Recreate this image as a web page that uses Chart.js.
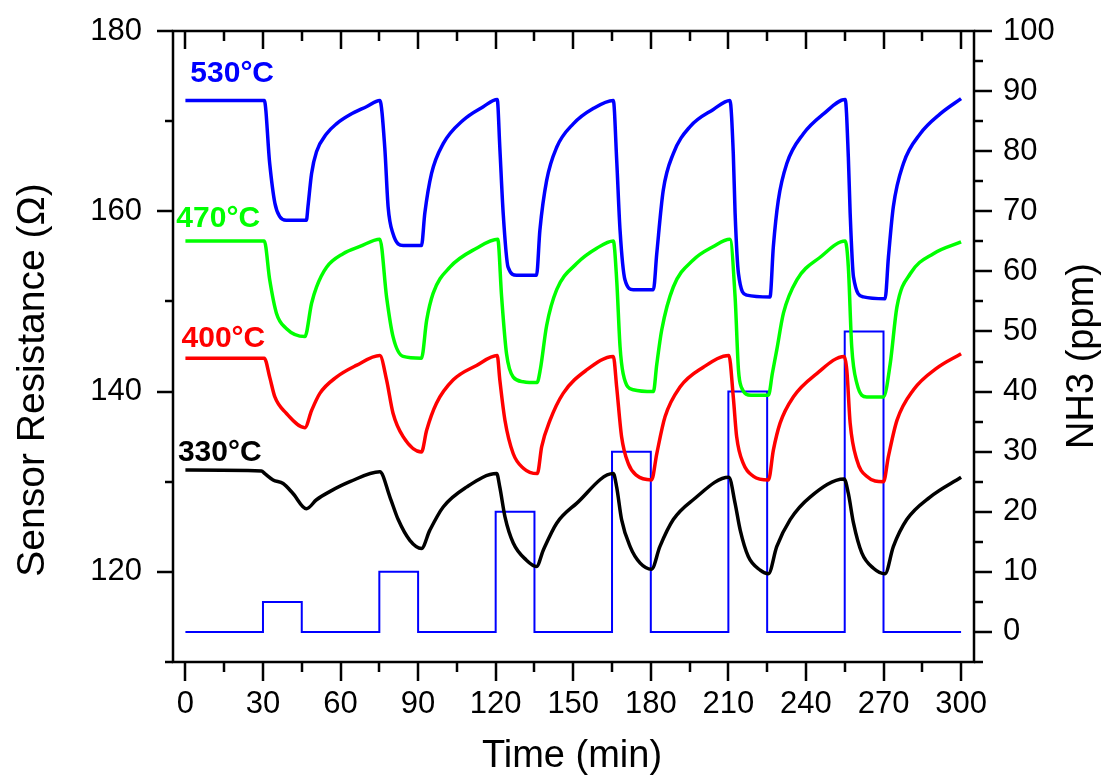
<!DOCTYPE html>
<html>
<head>
<meta charset="utf-8">
<script src="https://cdn.jsdelivr.net/npm/chart.js@4.4.0/dist/chart.umd.min.js"></script>
<style>
  html, body { margin: 0; padding: 0; background: #fff; }
  #wrap { width: 1106px; height: 778px; }
</style>
</head>
<body>
<div id="wrap"><canvas id="sensorChart" width="1106" height="778"></canvas></div>
<script>
// sensor resistance, one pair of arrays per temperature
const time530 = [0, 30.5, 32.6, 34.6, 36.5, 39, 46.8, 47.4, 48.8, 50.7, 54.6, 58.4, 63.6, 70, 75.2,
  77.1, 78.4, 80.3, 84.2, 91.3, 92.6, 95.2, 99.7, 107.4, 115.2, 120.6,
  121.6, 122.9, 124.8, 128.1, 135.8, 137.1, 139.7, 143.6, 150, 157.7, 165.5,
  166.8, 168.1, 170, 173.2, 181, 182.3, 184.8, 188.7, 195.2, 204.2, 210.6,
  211.9, 212.6, 213.9, 217.1, 226.1, 227.4, 229.3, 232.6, 239, 246.8, 255.2,
  256.4, 257.1, 258.4, 262.2, 270.6, 271.9, 273.8, 277.7, 284.2, 291.9, 300];
const res530 = [172.3, 172.3, 165.3, 160.9, 159.4, 159.0, 159.0, 160.5, 164.2, 166.6, 168.6, 169.7, 170.7, 171.6, 172.3,
  167.1, 160.5, 157.5, 156.2, 156.2, 159.8, 164.2, 167.5, 170.1, 171.6, 172.4,
  167.1, 159.8, 153.8, 152.9, 152.9, 157.9, 163.4, 167.1, 169.7, 171.4, 172.3,
  165.7, 157.9, 152.4, 151.3, 151.3, 155.3, 162.3, 166.4, 169.4, 171.3, 172.3,
  166.4, 159.8, 153.1, 150.7, 150.5, 156.1, 161.2, 165.3, 168.6, 170.8, 172.4,
  166.0, 159.8, 152.7, 150.5, 150.3, 154.9, 160.5, 165.3, 168.6, 170.8, 172.5];

const time470 = [0, 30.5, 32.6, 35.2, 39, 46.2, 48.8, 50.7, 54.6, 61, 67.5, 75.2,
  77.8, 80.3, 84.2, 91.3, 93.3, 95.8, 102.3, 112.6, 120.8,
  122.3, 124.2, 126.8, 130.7, 136.0, 137.3, 139.7, 143.6, 151.3, 159.1, 165.5,
  166.8, 168.1, 169.3, 173.2, 181, 182.3, 184.2, 188.7, 196.4, 204.2, 210.6,
  212.6, 213.9, 215, 218.8, 225.5, 227.0, 228.7, 231.3, 236.5, 245.5, 255.2,
  256.4, 257.7, 259.7, 263.5, 270, 272.6, 275.2, 280.4, 289.3, 300];
const res470 = [156.7, 156.7, 152.4, 148.7, 147.0, 146.1, 149.8, 151.6, 153.8, 155.3, 156.1, 156.9,
  150.5, 146.1, 143.9, 143.7, 147.9, 150.9, 153.8, 155.9, 156.9,
  150.5, 144.2, 141.6, 141.1, 141.0, 142.5, 147.3, 151.3, 154.2, 155.9, 156.7,
  152.4, 145.0, 142.0, 140.2, 140.0, 143.0, 146.8, 151.6, 154.6, 156.1, 156.9,
  150.5, 142.4, 140.5, 139.6, 139.6, 142.0, 144.6, 148.7, 152.4, 154.9, 156.7,
  153.8, 145.0, 140.9, 139.4, 139.4, 143.1, 149.4, 153.1, 155.3, 156.6];

const time400 = [0, 30.5, 32.6, 34.6, 39, 46.2, 48.8, 52, 58.4, 66.1, 75.2,
  77.8, 80.3, 84.2, 91.3, 93.3, 97.1, 103.6, 112.6, 120.6,
  121.6, 123.6, 126.8, 130.7, 136.1, 137.8, 141, 146.1, 155.2, 165.5,
  166.8, 168.7, 171.3, 174.5, 180.3, 182.3, 185.5, 191.3, 200.3, 210.2,
  211.9, 213.2, 215.8, 219.7, 225.5, 227.4, 230, 235.1, 244.2, 254.8,
  255.8, 257.1, 259.7, 263.5, 270, 271.9, 275.2, 281.6, 290.6, 300];
const res400 = [143.7, 143.7, 141.6, 139.4, 137.6, 136.0, 137.9, 139.8, 141.6, 142.9, 144.0,
  141.3, 137.6, 135.0, 133.3, 135.7, 138.7, 141.3, 142.9, 144.0,
  141.3, 136.8, 133.1, 131.5, 130.9, 133.9, 136.8, 139.8, 142.4, 143.9,
  140.5, 135.0, 132.0, 130.7, 130.2, 133.1, 137.2, 140.5, 142.7, 144.0,
  139.4, 135.0, 132.0, 130.6, 130.2, 133.5, 136.5, 139.4, 142.0, 143.9,
  142.4, 136.5, 132.4, 130.6, 130.0, 132.8, 136.8, 140.2, 142.6, 144.2];

const time330 = [0, 29.4, 30.7, 33.9, 37.8, 41.6, 46.8, 50.7, 55.8, 63.6, 75.2,
  79.1, 82.3, 86.8, 91.3, 94.5, 99.7, 108.7, 120.4,
  121.6, 123.6, 126.8, 131.9, 135.8, 138.4, 143.6, 151.3, 165.5,
  166.8, 168.7, 172, 175.8, 180.3, 183.5, 188.7, 196.4, 210.2,
  212.6, 214.6, 217.7, 222.3, 225.5, 228.7, 233.9, 241.6, 254.8,
  256.4, 258.4, 261.6, 266.1, 270.6, 273.8, 279, 288, 300];
const res330 = [131.3, 131.2, 130.9, 130.2, 129.8, 128.7, 127.0, 128.0, 128.9, 130.0, 131.1,
  128.3, 125.8, 123.5, 122.6, 124.6, 127.2, 129.4, 130.9,
  129.4, 126.1, 123.2, 121.3, 120.6, 122.4, 125.4, 127.6, 130.9,
  129.4, 125.8, 122.8, 121.0, 120.3, 122.8, 125.8, 128.0, 130.5,
  127.6, 124.6, 121.7, 120.2, 119.8, 122.8, 125.8, 128.3, 130.3,
  128.7, 125.4, 122.1, 120.4, 119.8, 122.8, 125.8, 128.3, 130.5];

// NH3 pulses (each value held until the next time point)
const nh3Time = [0, 30, 45, 75, 90, 120, 135, 165, 180, 210, 225, 255, 270, 300];
const nh3Ppm = [0, 5, 0, 10, 0, 20, 0, 30, 0, 40, 0, 50, 0, 0];

const timeTicks = [0, 30, 60, 90, 120, 150, 180, 210, 240, 270, 300];
const resTicks = [120, 140, 160, 180];
const ppmTicks = [0, 10, 20, 30, 40, 50, 60, 70, 80, 90, 100];

const FONT = '"Liberation Sans", Arial, Helvetica, sans-serif';
Chart.defaults.font.family = FONT;
Chart.defaults.color = '#000';

function toPoints(ts, vs) {
  return ts.map((t, i) => ({ x: t, y: vs[i] }));
}

function resLine(ts, vs, color) {
  return {
    data: toPoints(ts, vs),
    yAxisID: 'y',
    borderColor: color,
    borderWidth: 3.5,
    pointRadius: 0,
    cubicInterpolationMode: 'monotone',
    fill: false
  };
}

const labelAnchors = [
  { text: '530°C', color: '#0000ff', t: 1.9, r: 174.3 },
  { text: '470°C', color: '#00ff00', t: -3.5, r: 158.3 },
  { text: '400°C', color: '#ff0000', t: -1.5, r: 145.0 },
  { text: '330°C', color: '#000000', t: -2.9, r: 132.3 }
];

const frameAndText = {
  id: 'frameAndText',
  afterDraw(chart) {
    const { ctx, chartArea: a, scales } = chart;
    ctx.save();
    ctx.strokeStyle = '#000';
    ctx.lineWidth = 2.5;
    ctx.strokeRect(a.left, a.top, a.right - a.left, a.bottom - a.top);

    ctx.beginPath();
    // time axis: outward at the bottom, inward at the top
    for (let v = 0; v <= 300; v += 15) {
      const x = Math.round(scales.x.getPixelForValue(v));
      const major = v % 30 === 0;
      ctx.moveTo(x, a.bottom); ctx.lineTo(x, a.bottom + (major ? 19 : 10));
      ctx.moveTo(x, a.top); ctx.lineTo(x, a.top + (major ? 18 : 10));
    }
    // resistance axis, outward
    for (let v = 110; v <= 180; v += 10) {
      const y = Math.round(scales.y.getPixelForValue(v));
      const major = v % 20 === 0;
      ctx.moveTo(a.left, y); ctx.lineTo(a.left - (major ? 16 : 8), y);
    }
    // NH3 axis, outward
    for (let v = -5; v <= 100; v += 5) {
      const y = Math.round(scales.y2.getPixelForValue(v));
      const major = v % 10 === 0;
      ctx.moveTo(a.right, y); ctx.lineTo(a.right + (major ? 18 : 9), y);
    }
    ctx.stroke();

    // temperature labels next to each curve
    ctx.font = 'bold 30px ' + FONT;
    ctx.textAlign = 'left';
    ctx.textBaseline = 'alphabetic';
    labelAnchors.forEach(l => {
      ctx.fillStyle = l.color;
      ctx.fillText(l.text, scales.x.getPixelForValue(l.t), scales.y.getPixelForValue(l.r));
    });

    // axis titles
    ctx.fillStyle = '#000';
    ctx.font = '38px ' + FONT;
    ctx.textAlign = 'center';
    ctx.fillText('Time (min)', 572, 767);

    ctx.textBaseline = 'middle';
    ctx.save();
    ctx.translate(33, 380);
    ctx.rotate(-Math.PI / 2);
    ctx.font = '39px ' + FONT;
    ctx.fillText('Sensor Resistance (Ω)', 0, 0);
    ctx.restore();

    ctx.save();
    ctx.translate(1083, 356);
    ctx.rotate(-Math.PI / 2);
    ctx.fillText('NH3 (ppm)', 0, 0);
    ctx.restore();

    ctx.restore();
  }
};

const tickFont = { size: 31, family: FONT };

// fixed box sizes so the plot frame lands where it is in the figure
function fixWidth(w) {
  return s => { s.width = w; s.paddingTop = 0; s.paddingBottom = 0; };
}

new Chart(document.getElementById('sensorChart'), {
  type: 'line',
  data: {
    datasets: [
      resLine(time530, res530, '#0000ff'),
      resLine(time470, res470, '#00ff00'),
      resLine(time400, res400, '#ff0000'),
      resLine(time330, res330, '#000000'),
      {
        data: toPoints(nh3Time, nh3Ppm),
        yAxisID: 'y2',
        borderColor: '#0000ff',
        borderWidth: 2,
        pointRadius: 0,
        stepped: 'before',
        fill: false
      }
    ]
  },
  options: {
    responsive: false,
    animation: false,
    layout: { padding: { top: 31, left: 0, right: 0, bottom: 0 } },
    plugins: {
      legend: { display: false },
      tooltip: { enabled: false }
    },
    scales: {
      x: {
        type: 'linear',
        position: 'bottom',
        min: -4.8,
        max: 305,
        grid: { display: false, drawTicks: false },
        border: { display: false },
        afterBuildTicks: s => { s.ticks = timeTicks.map(v => ({ value: v })); },
        afterFit: s => { s.height = 116; s.paddingLeft = 0; s.paddingRight = 0; },
        ticks: { autoSkip: false, maxRotation: 0, padding: 24, font: tickFont, color: '#000' }
      },
      y: {
        type: 'linear',
        position: 'left',
        min: 110,
        max: 180,
        grid: { display: false, drawTicks: false },
        border: { display: false },
        afterBuildTicks: s => { s.ticks = resTicks.map(v => ({ value: v })); },
        afterFit: fixWidth(173),
        ticks: { padding: 31, font: tickFont, color: '#000' }
      },
      y2: {
        type: 'linear',
        position: 'right',
        min: -5,
        max: 100,
        grid: { display: false, drawTicks: false },
        border: { display: false },
        afterBuildTicks: s => { s.ticks = ppmTicks.map(v => ({ value: v })); },
        afterFit: fixWidth(132),
        ticks: { padding: 29, font: tickFont, color: '#000' }
      }
    }
  },
  plugins: [frameAndText]
});
</script>
</body>
</html>
